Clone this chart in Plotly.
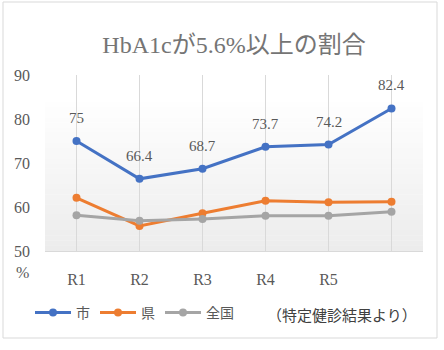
import plotly.graph_objects as go

categories = ["R1", "R2", "R3", "R4", "R5", ""]
cat_keys = ["R1", "R2", "R3", "R4", "R5", "R6"]
city = [75, 66.4, 68.7, 73.7, 74.2, 82.4]
pref = [62.1, 55.7, 58.6, 61.4, 61.1, 61.2]
nation = [58.1, 56.9, 57.3, 58.0, 58.0, 58.9]
city_labels = ["75", "66.4", "68.7", "73.7", "74.2", "82.4"]

FONT = "'Liberation Serif', 'Times New Roman', serif"
TFONT = "'Liberation Serif', 'Times New Roman', 'Noto Sans CJK JP', serif"
JFONT = "'Noto Sans CJK JP', sans-serif"

fig = go.Figure()
for name, vals, col in [("市", city, "#4472C4"), ("県", pref, "#ED7D31"), ("全国", nation, "#A5A5A5")]:
    fig.add_trace(go.Scatter(
        x=cat_keys, y=vals, name=name, mode="lines+markers",
        line=dict(color=col, width=3), marker=dict(color=col, size=8),
        hoverinfo="skip"))

for k, v, t in zip(cat_keys, city, city_labels):
    fig.add_annotation(x=k, y=v, text=t, showarrow=False, yshift=23,
                       xanchor="center", yanchor="middle",
                       font=dict(family=FONT, size=15, color="#595959"))

# gradient plot background
n = 30
top = 0.875
for i in range(n):
    g = int(round(255 - (255 - 236) * (i + 0.5) / n))
    fig.add_shape(type="rect", xref="paper", yref="paper", x0=0, x1=1,
                  y0=top * (1 - (i + 1) / n), y1=top * (1 - i / n) + (0.002 if i else 0),
                  fillcolor=f"rgb({g},{g},{g})", line=dict(width=0), layer="below")

# outer border
fig.add_shape(type="rect", xref="paper", yref="paper",
              x0=(3 - 45) / 378, x1=(437 - 45) / 378,
              y0=(251 - 338) / 176, y1=(251 - 2) / 176,
              line=dict(color="#D9D9D9", width=1), fillcolor="rgba(0,0,0,0)", layer="below")

fig.add_annotation(xref="paper", yref="paper", x=(22 - 45) / 378, y=(251 - 272) / 176,
                   xanchor="center", yanchor="middle",
                   text="%", showarrow=False, font=dict(family=FONT, size=16, color="#595959"))
fig.add_annotation(xref="paper", yref="paper", x=(342 - 45) / 378, y=(251 - 314) / 176,
                   xanchor="center", yanchor="middle",
                   text="（特定健診結果より）", showarrow=False,
                   font=dict(family=JFONT, size=15, color="#404040"))

fig.update_layout(
    width=444, height=350,
    margin=dict(l=45, r=21, t=75, b=99),
    paper_bgcolor="white", plot_bgcolor="rgba(0,0,0,0)",
    title=dict(text="HbA1cが5.6%以上の割合", x=0.5, xref="paper", xanchor="center",
               y=(350 - 45) / 350, yanchor="middle",
               font=dict(family=TFONT, size=24, color="#757575")),
    showlegend=True,
    legend=dict(orientation="h", x=(30 - 45) / 378, y=(251 - 313) / 176, yanchor="middle",
                xanchor="left", font=dict(family=JFONT, size=14, color="#595959"),
                bgcolor="rgba(0,0,0,0)", itemwidth=36),
    xaxis=dict(categoryorder="array", categoryarray=cat_keys,
               tickvals=cat_keys, ticktext=categories,
               showgrid=True, gridcolor="#D9D9D9", gridwidth=1,
               showline=True, linecolor="#D9D9D9", ticks="", ticklabelstandoff=14,
               range=[-0.5, 5.5],
               tickfont=dict(family=FONT, size=16, color="#595959"), zeroline=False),
    yaxis=dict(range=[50, 90], dtick=10, showgrid=False, zeroline=False, showline=False,
               ticks="", ticklabelstandoff=14,
               tickfont=dict(family=FONT, size=16, color="#595959")),
)

fig.write_html("out.html")
